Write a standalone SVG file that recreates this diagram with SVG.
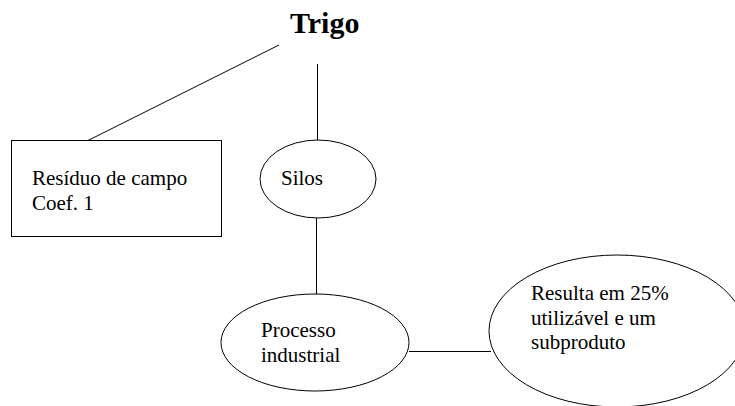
<svg xmlns="http://www.w3.org/2000/svg" width="735" height="406" viewBox="0 0 735 406">
<style>
.s{fill:#fff;stroke:#000;stroke-width:1}
.c line{stroke:#000;stroke-width:1}
.t{font-family:"Liberation Serif","Times New Roman",serif;font-size:21px;fill:#000}
.h{font-family:"Liberation Serif","Times New Roman",serif;font-size:30px;font-weight:bold;fill:#000}
</style>
<rect width="735" height="406" fill="#fff"/>
<g id="connectors" class="c">
<line x1="279" y1="45" x2="88" y2="140.5"/>
<line x1="317.5" y1="64" x2="317.5" y2="140"/>
<line x1="316.5" y1="218" x2="316.5" y2="294"/>
<line x1="409" y1="351.5" x2="491" y2="351.5"/>
</g>
<g id="trigo">
<text class="h" x="290" y="33">Trigo</text>
</g>
<g id="residuo">
<rect class="s" x="11.5" y="140.5" width="210" height="96"/>
<text class="t" x="32" y="185">Resíduo de campo</text>
<text class="t" x="32" y="210">Coef. 1</text>
</g>
<g id="silos">
<ellipse class="s" cx="318" cy="179" rx="58" ry="39"/>
<text class="t" x="281" y="185">Silos</text>
</g>
<g id="processo">
<ellipse class="s" cx="315" cy="342.5" rx="94" ry="48.5"/>
<text class="t" x="261" y="337">Processo</text>
<text class="t" x="261" y="362">industrial</text>
</g>
<g id="resulta">
<ellipse class="s" cx="617" cy="331" rx="128" ry="76"/>
<text class="t" x="531" y="300">Resulta em 25%</text>
<text class="t" x="531" y="325">utilizável e um</text>
<text class="t" x="531" y="349">subproduto</text>
</g>
</svg>
